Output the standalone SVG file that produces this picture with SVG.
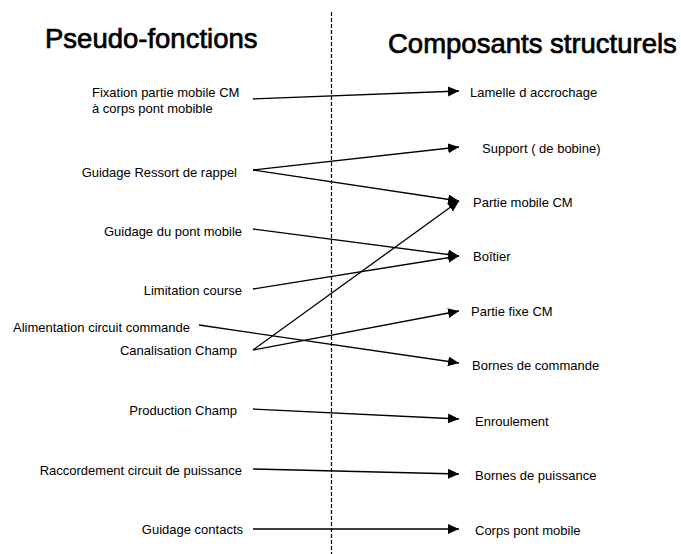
<svg xmlns="http://www.w3.org/2000/svg" width="681" height="554" viewBox="0 0 681 554">
<style>
.t{font-family:"Liberation Sans",Arial,sans-serif;font-size:27.5px;font-weight:normal;fill:#000;stroke:#000;stroke-width:0.7}
.l{font-family:"Liberation Sans",Arial,sans-serif;font-size:13px;fill:#000}
.e{text-anchor:end}
.c line{stroke:#000;stroke-width:1.3;marker-end:url(#ah)}
</style>
<defs>
<marker id="ah" markerUnits="userSpaceOnUse" markerWidth="12" markerHeight="12" refX="11" refY="5" orient="auto">
<path d="M0,0 L11,5 L0,10 Z" fill="#000"/>
</marker>
</defs>
<rect width="681" height="554" fill="#fff"/>
<text class="t" x="45" y="48">Pseudo-fonctions</text>
<text class="t" x="388" y="53">Composants structurels</text>
<line x1="331.5" y1="12" x2="331.5" y2="554" stroke="#000" stroke-width="1.2" stroke-dasharray="4 2"/>
<g id="left">
<g id="pf-fixation"><text class="l" x="92" y="97">Fixation partie mobile CM</text><text class="l" x="92" y="113">à corps pont mobible</text></g>
<g id="pf-ressort"><text class="l e" x="237" y="177">Guidage Ressort de rappel</text></g>
<g id="pf-pont"><text class="l e" x="242" y="236">Guidage du pont mobile</text></g>
<g id="pf-limitation"><text class="l e" x="242" y="295">Limitation course</text></g>
<g id="pf-alimentation"><text class="l" x="13" y="332">Alimentation circuit commande</text></g>
<g id="pf-canalisation"><text class="l e" x="237" y="355">Canalisation Champ</text></g>
<g id="pf-production"><text class="l e" x="237" y="415">Production Champ</text></g>
<g id="pf-raccordement"><text class="l e" x="242" y="475">Raccordement circuit de puissance</text></g>
<g id="pf-contacts"><text class="l e" x="243" y="534">Guidage contacts</text></g>
</g>
<g id="right">
<g id="cs-lamelle"><text class="l" x="470" y="97">Lamelle d accrochage</text></g>
<g id="cs-support"><text class="l" x="482" y="153">Support ( de bobine)</text></g>
<g id="cs-mobile"><text class="l" x="473" y="207">Partie mobile CM</text></g>
<g id="cs-boitier"><text class="l" x="473" y="261">Boîtier</text></g>
<g id="cs-fixe"><text class="l" x="471" y="316">Partie fixe CM</text></g>
<g id="cs-commande"><text class="l" x="472" y="370">Bornes de commande</text></g>
<g id="cs-enroulement"><text class="l" x="475" y="426">Enroulement</text></g>
<g id="cs-puissance"><text class="l" x="475" y="480">Bornes de puissance</text></g>
<g id="cs-corps"><text class="l" x="475" y="535">Corps pont mobile</text></g>
</g>
<g id="connectors" class="c">
<line x1="253" y1="99" x2="459" y2="91"/>
<line x1="253" y1="170" x2="459" y2="147"/>
<line x1="253" y1="170" x2="459" y2="201"/>
<line x1="253" y1="229" x2="459" y2="256"/>
<line x1="253" y1="289" x2="459" y2="256"/>
<line x1="253" y1="350" x2="459" y2="201"/>
<line x1="253" y1="350" x2="459" y2="311"/>
<line x1="199" y1="325" x2="459" y2="363"/>
<line x1="253" y1="409" x2="459" y2="419"/>
<line x1="253" y1="469" x2="459" y2="474"/>
<line x1="253" y1="529" x2="459" y2="529"/>
</g>
</svg>
